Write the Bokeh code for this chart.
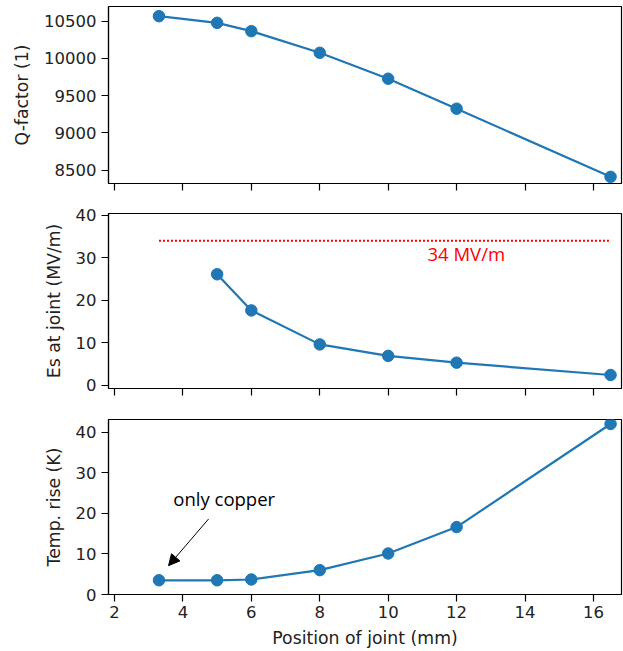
from bokeh.plotting import figure
from bokeh.layouts import column
from bokeh.models import Range1d, FixedTicker, Arrow, NormalHead
from bokeh.core.properties import value
from bokeh.embed import file_html
from bokeh.resources import INLINE

# ---- data ----
x_pos = [3.3, 5, 6, 8, 10, 12, 16.5]
q_factor = [10567, 10478, 10366, 10076, 9728, 9326, 8411]
es_x = [5, 6, 8, 10, 12, 16.5]
es_joint = [26.1, 17.6, 9.6, 6.9, 5.3, 2.4]
temp_rise = [3.5, 3.5, 3.7, 6.0, 10.1, 16.6, 42.0]
es_limit = 34
es_limit_label = "34 MV/m"
x_ticks = [2, 4, 6, 8, 10, 12, 14, 16]
q_ticks = [8500, 9000, 9500, 10000, 10500]
es_ticks = [0, 10, 20, 30, 40]
t_ticks = [0, 10, 20, 30, 40]
note_text = "only copper"

BLUE = "#1f77b4"
TICK_FONT = "DejaVu Sans"
TICK_SIZE = "16.5px"
LABEL_SIZE = "17.3px"


def make_fig(yr, yticks, ylabel, height, top, bottom, show_x_labels):
    p = figure(width=623, height=height, output_backend="svg", toolbar_location=None,
               x_range=Range1d(1.825, 16.82), y_range=Range1d(*yr),
               frame_width=513, frame_height=height - top - bottom,
               min_border_left=108, min_border_right=2,
               min_border_top=top, min_border_bottom=bottom)
    p.grid.visible = False
    p.outline_line_color = "black"
    p.outline_line_width = 1.2
    p.outline_line_alpha = 1
    p.background_fill_color = "white"
    p.border_fill_color = "white"
    for ax in (p.xaxis[0], p.yaxis[0]):
        ax.axis_line_color = "black"
        ax.axis_line_width = 1.2
        ax.major_tick_line_color = "black"
        ax.major_tick_line_width = 1.2
        ax.major_tick_out = 7
        ax.major_tick_in = 0
        ax.minor_tick_line_color = None
        ax.major_label_text_font = TICK_FONT
        ax.major_label_text_font_size = TICK_SIZE
        ax.major_label_text_color = "#222222"
        ax.major_label_standoff = 5
        ax.axis_label_text_font = TICK_FONT
        ax.axis_label_text_font_size = LABEL_SIZE
        ax.axis_label_text_font_style = "normal"
        ax.axis_label_text_color = "#222222"
    p.xaxis.ticker = FixedTicker(ticks=x_ticks)
    p.yaxis.ticker = FixedTicker(ticks=yticks)
    p.yaxis.axis_label = ylabel
    p.yaxis.axis_label_standoff = 9
    if show_x_labels:
        p.xaxis.axis_label = "Position of joint (mm)"
        p.xaxis.axis_label_standoff = 7
        p.xaxis.major_label_standoff = 4
    else:
        p.xaxis.major_label_overrides = {t: "" for t in x_ticks}
    return p


# Panel 1: Q-factor
p1 = make_fig((8322, 10697), q_ticks, "Q-factor (1)", 202, 6, 19, False)
p1.line(x_pos, q_factor, line_color=BLUE, line_width=2.2)
p1.scatter(x_pos, q_factor, size=11.5, fill_color=BLUE, line_color=BLUE)

# Panel 2: Es at joint
p2 = make_fig((-0.78, 40.4), es_ticks, "Es at joint (MV/m)", 205, 11, 19, False)
p2.line([x_pos[0], x_pos[-1]], [es_limit, es_limit], line_color="red",
        line_width=2, line_dash="2 2")
p2.text(x=[11.15], y=[31.1], text=[es_limit_label], text_color="red",
        text_font=value("Open Sans"), text_font_size="18.5px",
        text_align="left", text_baseline="middle")
p2.line(es_x, es_joint, line_color=BLUE, line_width=2.2)
p2.scatter(es_x, es_joint, size=11.5, fill_color=BLUE, line_color=BLUE)

# Panel 3: Temperature rise
p3 = make_fig((0, 43.1), t_ticks, "Temp. rise (K)", 244, 12, 57, True)
p3.line(x_pos, temp_rise, line_color=BLUE, line_width=2.2)
p3.scatter(x_pos, temp_rise, size=11.5, fill_color=BLUE, line_color=BLUE)
p3.text(x=[3.72], y=[23.75], text=[note_text], text_color="black",
        text_font=value("Open Sans"), text_font_size="18.5px",
        text_align="left", text_baseline="middle")
p3.add_layout(Arrow(x_start=4.75, y_start=18.6, x_end=3.58, y_end=7.1,
                    line_color="black", line_width=1,
                    end=NormalHead(size=11, fill_color="black", line_color="black")))

layout = column(p1, p2, p3, spacing=0)
open("out.html", "w").write(file_html(layout, INLINE))
